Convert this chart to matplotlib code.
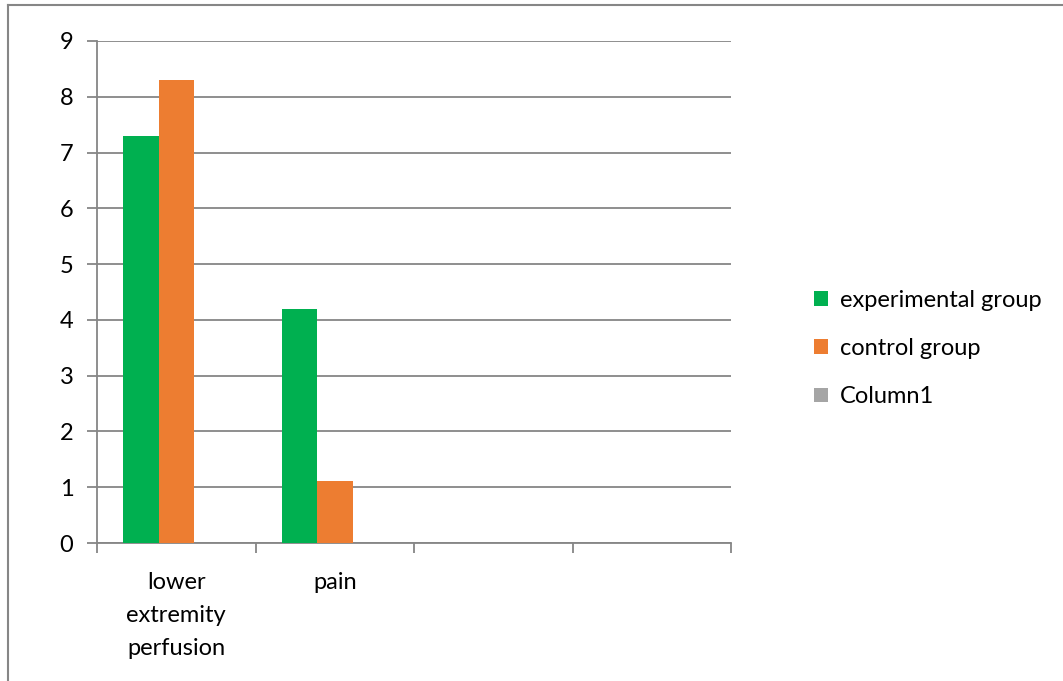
import numpy as np
import matplotlib
matplotlib.use("Agg")
import matplotlib.pyplot as plt
from matplotlib.lines import Line2D

# datos
categorias = ["lower\nextremity\nperfusion", "pain", "", ""]
experimental = [7.3, 4.2, np.nan, np.nan]
control = [8.3, 1.12, np.nan, np.nan]
column1 = [np.nan, np.nan, np.nan, np.nan]
series = ["experimental group", "control group", "Column1"]
colores = ["#00B050", "#ED7D31", "#A5A5A5"]
yticks = list(range(0, 10))

plt.rcParams['font.family'] = ['Lato', 'DejaVu Sans']

fig = plt.figure(figsize=(10.63, 6.81), dpi=100)
ax = fig.add_axes([0.0913, 0.2026, 0.5964, 0.7372])

x = np.arange(len(categorias))
ancho = 0.224
for i, (vals, nombre, c) in enumerate(zip([experimental, control, column1], series, colores)):
    ax.bar(x + (i - 1) * ancho, vals, ancho, color=c, label=nombre, zorder=3)

ax.set_xlim(-0.5, len(categorias) - 0.5)
ax.set_ylim(0, 9)
ax.set_yticks(yticks)
ax.set_yticklabels([str(v) for v in yticks], fontsize=17)
ax.grid(axis='y', color='#868686', linewidth=1.3, zorder=0)

# marcas del eje x entre categorias
ax.set_xticks(np.arange(-0.5, len(categorias), 1.0))
ax.set_xticklabels([])
ax.set_xticks(x, minor=True)
ax.set_xticklabels(categorias, minor=True, fontsize=17, linespacing=1.7)
ax.tick_params(axis='x', which='minor', length=0, pad=21)
ax.tick_params(axis='x', which='major', length=7, width=1.3, color='#868686', direction='out')
ax.tick_params(axis='y', length=7, width=1.3, color='#868686', direction='out', pad=10)

for s in ['top', 'right']:
    ax.spines[s].set_visible(False)
for s in ['left', 'bottom']:
    ax.spines[s].set_color('#868686')
    ax.spines[s].set_linewidth(1.3)

ax.legend(loc='center left', bbox_to_anchor=(0.746, 0.488), bbox_transform=fig.transFigure,
          frameon=False, fontsize=17, handlelength=0.6, handleheight=0.6,
          handletextpad=0.5, labelspacing=1.15)

# borde del area del grafico
fig.add_artist(Line2D([8 / 1063, 8 / 1063], [0, 1 - 5 / 681], color='#868686', linewidth=1.5))
fig.add_artist(Line2D([8 / 1063, 1], [1 - 5 / 681, 1 - 5 / 681], color='#868686', linewidth=1.5))

fig.savefig("out.png", dpi=100)
